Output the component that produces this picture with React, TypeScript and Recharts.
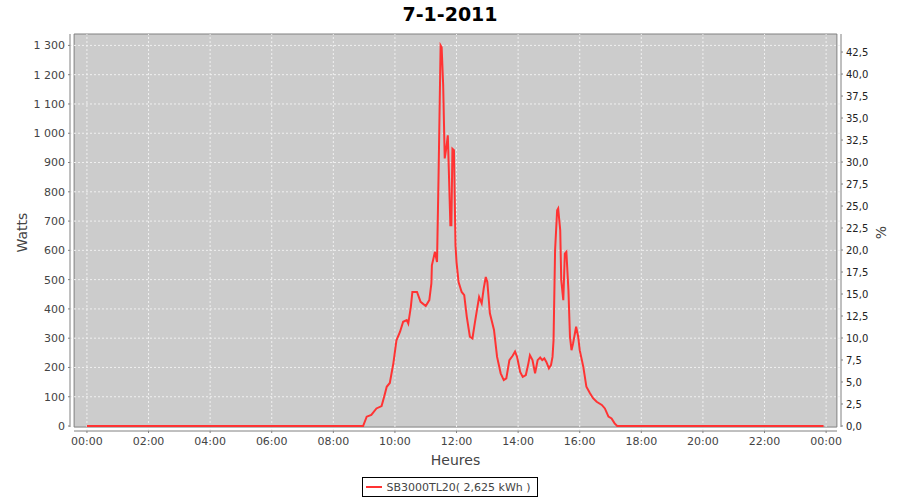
import { Label, Legend, Line, LineChart, ReferenceArea, ReferenceLine, XAxis, YAxis } from 'recharts';

const TIMES = [
  '00:00', '08:58', '09:05', '09:14', '09:24', '09:34', '09:39', '09:44', '09:50', '09:57',
  '10:03', '10:10', '10:16', '10:23', '10:26', '10:31', '10:34', '10:43', '10:50', '11:00',
  '11:07', '11:11', '11:12', '11:18', '11:22', '11:25', '11:29', '11:31', '11:34', '11:37',
  '11:40', '11:43', '11:44', '11:48', '11:50', '11:52', '11:55', '11:58', '12:00', '12:04',
  '12:10', '12:15', '12:20', '12:26', '12:31', '12:36', '12:44', '12:49', '12:53', '12:57',
  '13:00', '13:05', '13:13', '13:19', '13:26', '13:32', '13:37', '13:43', '13:49', '13:54',
  '13:58', '14:04', '14:09', '14:15', '14:20', '14:23', '14:28', '14:33', '14:38', '14:43',
  '14:47', '14:51', '14:55', '15:00', '15:04', '15:07', '15:09', '15:12', '15:16', '15:18',
  '15:22', '15:24', '15:28', '15:31', '15:34', '15:38', '15:41', '15:44', '15:47', '15:53',
  '15:57', '16:00', '16:07', '16:13', '16:20', '16:26', '16:33', '16:43', '16:49', '16:56',
  '17:02', '17:08', '17:13', '23:55',
];

const WATTS = [
  0, 0, 32, 38, 60, 68, 100, 134, 147, 215,
  293, 322, 356, 362, 350, 407, 458, 458, 424, 410,
  430, 487, 549, 595, 560, 856, 1300, 1294, 1163, 914,
  948, 993, 936, 686, 686, 947, 942, 617, 560, 492,
  458, 447, 373, 305, 299, 356, 441, 419, 470, 509,
  492, 385, 328, 236, 180, 157, 163, 225, 239, 254,
  236, 185, 168, 174, 214, 242, 225, 180, 225, 234,
  225, 231, 219, 197, 208, 236, 293, 600, 737, 743,
  669, 498, 430, 589, 595, 464, 305, 259, 282, 339,
  305, 259, 202, 134, 112, 95, 83, 72, 60, 32,
  26, 9, 0, 0,
];

const HOUR_TICKS = [0, 120, 240, 360, 480, 600, 720, 840, 960, 1080, 1200, 1320, 1440];
const WATT_TICKS = [0, 100, 200, 300, 400, 500, 600, 700, 800, 900, 1000, 1100, 1200, 1300];
const PCT_TICKS = [0, 2.5, 5, 7.5, 10, 12.5, 15, 17.5, 20, 22.5, 25, 27.5, 30, 32.5, 35, 37.5, 40, 42.5];

const SERIES_NAME = 'SB3000TL20( 2,625 kWh )';
const FONT = '"DejaVu Sans", sans-serif';
const AXIS_GRAY = '#808080';
const GRID = '#f0f0f0';

const toMinutes = (t: string) => {
  const [h, m] = t.split(':').map(Number);
  return h * 60 + m;
};

const data = TIMES.map((t, i) => ({ t: toMinutes(t), w: WATTS[i] }));

const fmtHour = (v: number) => `${String(Math.floor(v / 60) % 24).padStart(2, '0')}:00`;
const fmtWatt = (v: number) => (v >= 1000 ? `${Math.floor(v / 1000)} ${String(v % 1000).padStart(3, '0')}` : String(v));
const fmtPct = (v: number) => v.toFixed(1).replace('.', ',');

function AxisTitle({ viewBox, text, x, y, rotate }: any) {
  const cx = x != null ? viewBox.x + x : viewBox.x + viewBox.width / 2;
  const cy = y != null ? viewBox.y + y : viewBox.y + viewBox.height / 2;
  return (
    <text
      x={cx}
      y={cy}
      textAnchor="middle"
      dominantBaseline="central"
      transform={rotate ? `rotate(-90, ${cx}, ${cy})` : undefined}
      fill="#444"
      fontSize={14}
      fontFamily={FONT}
    >
      {text}
    </text>
  );
}

function LegendBox() {
  return (
    <div style={{ display: 'flex', justifyContent: 'center', paddingTop: 6 }}>
      <div
        style={{
          display: 'flex',
          alignItems: 'center',
          height: 18,
          border: '1px solid #000',
          padding: '0 6px 0 2px',
          fontFamily: FONT,
          fontSize: 11,
          color: '#444',
        }}
      >
        <svg width={18} height={8} style={{ marginRight: 3 }}>
          <line x1={1} y1={4} x2={17} y2={4} stroke="#ff3333" strokeWidth={2} />
        </svg>
        {SERIES_NAME}
      </div>
    </div>
  );
}

export default function App() {
  return (
    <div style={{ position: 'absolute', left: 0, top: 0, width: 900, height: 500, background: '#fff' }}>
      <div
        style={{
          position: 'absolute',
          top: 0,
          left: 0,
          width: 900,
          lineHeight: '28px',
          textAlign: 'center',
          fontFamily: FONT,
          fontWeight: 'bold',
          fontSize: 19,
          color: '#000',
          zIndex: 1,
        }}
      >
        7-1-2011
      </div>
      <LineChart width={900} height={500} data={data} margin={{ top: 34, right: 0, bottom: 3, left: 0 }}>
        <ReferenceArea
          yAxisId="w"
          x1={-25}
          x2={1461}
          y1={-3.5}
          y2={1339}
          fill="#cccccc"
          fillOpacity={1}
          stroke={AXIS_GRAY}
          strokeWidth={1}
        />
        {HOUR_TICKS.map((h) => (
          <ReferenceLine key={`vx${h}`} yAxisId="w" x={h} stroke={GRID} strokeDasharray="2 2" strokeWidth={1} />
        ))}
        {WATT_TICKS.filter((v) => v > 0).map((v) => (
          <ReferenceLine key={`hy${v}`} yAxisId="w" y={v} stroke={GRID} strokeDasharray="2 2" strokeWidth={1} />
        ))}
        <XAxis
          dataKey="t"
          type="number"
          domain={[-33, 1469]}
          allowDataOverflow
          ticks={HOUR_TICKS}
          tickFormatter={fmtHour}
          height={40}
          axisLine={{ stroke: AXIS_GRAY, strokeDasharray: '0 4 763 4' }}
          tickLine={{ stroke: AXIS_GRAY }}
          tickSize={2}
          tickMargin={4}
          tick={{ fill: '#444', fontSize: 11, fontFamily: FONT }}
          label={<Label content={(p: any) => <AxisTitle viewBox={p.viewBox} text="Heures" y={29} />} />}
        />
        <YAxis
          yAxisId="w"
          orientation="left"
          type="number"
          domain={[-17, 1339]}
          allowDataOverflow
          ticks={WATT_TICKS}
          tickFormatter={fmtWatt}
          width={70}
          axisLine={{ stroke: AXIS_GRAY, strokeDasharray: '393 4' }}
          tickLine={{ stroke: AXIS_GRAY }}
          tickSize={2}
          tickMargin={3}
          tick={{ fill: '#444', fontSize: 11, fontFamily: FONT }}
          label={<Label content={(p: any) => <AxisTitle viewBox={p.viewBox} text="Watts" x={22} rotate />} />}
        />
        <YAxis
          yAxisId="pct"
          orientation="right"
          type="number"
          domain={[-0.57, 44.55]}
          allowDataOverflow
          ticks={PCT_TICKS}
          tickFormatter={fmtPct}
          width={59}
          axisLine={{ stroke: AXIS_GRAY, strokeDasharray: '393 4' }}
          tickLine={{ stroke: AXIS_GRAY }}
          tickSize={2}
          tickMargin={3}
          tick={{ fill: '#222', fontSize: 10, fontFamily: FONT }}
          label={<Label content={(p: any) => <AxisTitle viewBox={p.viewBox} text="%" x={40} rotate />} />}
        />
        <Legend verticalAlign="bottom" align="center" content={() => <LegendBox />} />
        <Line
          yAxisId="w"
          dataKey="w"
          name={SERIES_NAME}
          type="linear"
          stroke="#ff3333"
          strokeWidth={2}
          dot={false}
          isAnimationActive={false}
        />
      </LineChart>
    </div>
  );
}
